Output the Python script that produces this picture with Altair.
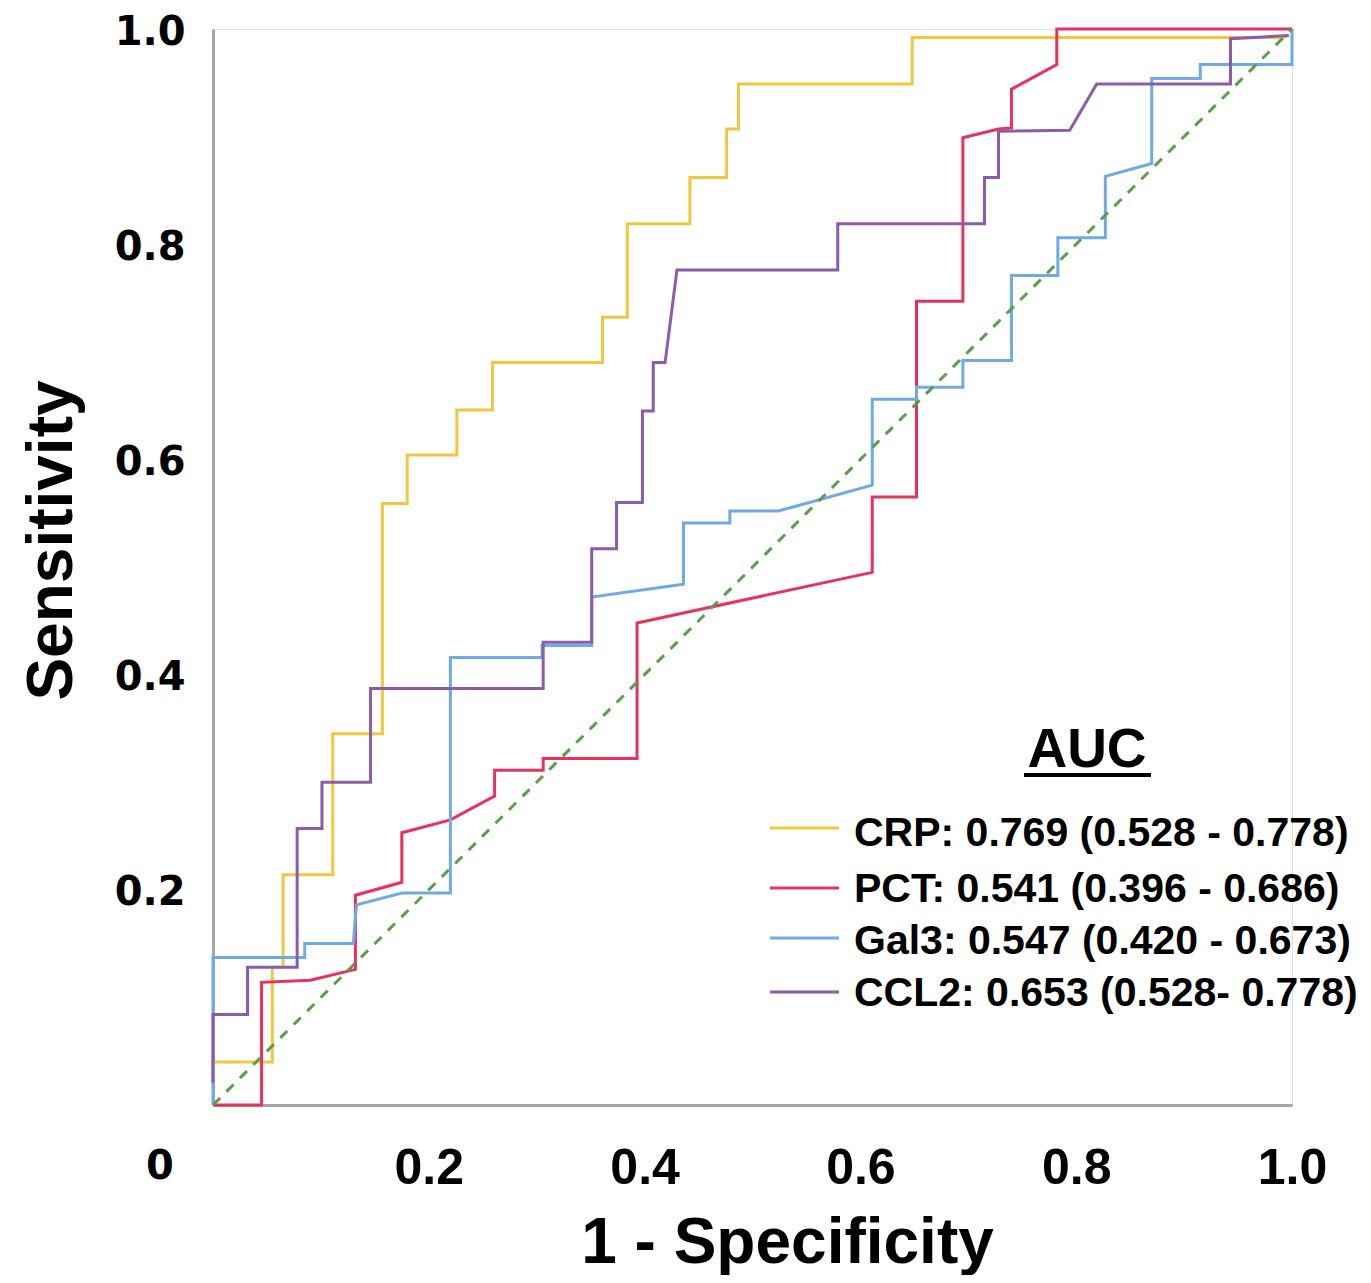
import altair as alt
import pandas as pd

# ---- data ------------------------------------------------------------------
series_names = ["CRP", "PCT", "Gal3", "CCL2"]
series_colors = ["#F2C740", "#E8325C", "#6EAAE4", "#8C5CAA"]
auc_labels = [
    "CRP: 0.769 (0.528 - 0.778)",
    "PCT: 0.541 (0.396 - 0.686)",
    "Gal3: 0.547 (0.420 - 0.673)",
    "CCL2: 0.653 (0.528- 0.778)",
]

crp_fpr = [0, 0, 0.055, 0.055, 0.065, 0.065, 0.111, 0.111, 0.157, 0.157,
           0.180, 0.180, 0.226, 0.226, 0.259, 0.259, 0.361, 0.361, 0.384, 0.384,
           0.442, 0.442, 0.476, 0.476, 0.487, 0.487, 0.648, 0.648, 0.991, 0.997]
crp_tpr = [0.021, 0.040, 0.040, 0.128, 0.128, 0.214, 0.214, 0.345, 0.345, 0.559,
           0.559, 0.604, 0.604, 0.646, 0.646, 0.690, 0.690, 0.732, 0.732, 0.819,
           0.819, 0.862, 0.862, 0.907, 0.907, 0.949, 0.949, 0.992, 0.992, 0.994]

pct_fpr = [0, 0.045, 0.045, 0.090, 0.132, 0.132, 0.175, 0.175, 0.220, 0.261,
           0.261, 0.306, 0.306, 0.393, 0.393, 0.611, 0.611, 0.652, 0.652, 0.695,
           0.695, 0.728, 0.740, 0.740, 0.782, 0.782, 1.0]
pct_tpr = [0, 0, 0.114, 0.116, 0.126, 0.195, 0.207, 0.253, 0.265, 0.287,
           0.311, 0.311, 0.322, 0.322, 0.448, 0.495, 0.565, 0.565, 0.747, 0.747,
           0.899, 0.907, 0.908, 0.944, 0.967, 1.0, 1.0]

gal3_fpr = [0, 0, 0.060, 0.085, 0.085, 0.130, 0.133, 0.175, 0.220, 0.220,
            0.305, 0.305, 0.351, 0.351, 0.436, 0.436, 0.479, 0.479, 0.524, 0.611,
            0.611, 0.652, 0.652, 0.695, 0.695, 0.740, 0.740, 0.783, 0.783, 0.827,
            0.827, 0.870, 0.870, 0.915, 0.915, 1.0, 1.0]
gal3_tpr = [0, 0.137, 0.137, 0.137, 0.150, 0.150, 0.186, 0.197, 0.197, 0.416,
            0.416, 0.427, 0.427, 0.472, 0.484, 0.541, 0.541, 0.552, 0.552, 0.576,
            0.656, 0.656, 0.667, 0.667, 0.692, 0.692, 0.771, 0.771, 0.806, 0.806,
            0.863, 0.875, 0.954, 0.954, 0.967, 0.967, 1.0]

ccl2_fpr = [0, 0, 0.032, 0.032, 0.078, 0.078, 0.101, 0.101, 0.146, 0.146,
            0.306, 0.306, 0.351, 0.351, 0.374, 0.374, 0.398, 0.398, 0.408, 0.408,
            0.419, 0.430, 0.579, 0.579, 0.715, 0.715, 0.728, 0.728, 0.794, 0.819,
            0.943, 0.943, 0.997]
ccl2_tpr = [0.021, 0.084, 0.084, 0.128, 0.128, 0.257, 0.257, 0.300, 0.300, 0.387,
            0.387, 0.430, 0.430, 0.517, 0.517, 0.560, 0.560, 0.645, 0.645, 0.690,
            0.690, 0.776, 0.776, 0.819, 0.819, 0.862, 0.862, 0.905, 0.906, 0.949,
            0.949, 0.991, 0.994]

ref_x = [0, 1]
ref_y = [0, 1]

tick_values = [0.2, 0.4, 0.6, 0.8, 1.0]

# ---- build tables ----------------------------------------------------------
rows = []
for name, fx, ty in [("CRP", crp_fpr, crp_tpr), ("PCT", pct_fpr, pct_tpr),
                     ("Gal3", gal3_fpr, gal3_tpr), ("CCL2", ccl2_fpr, ccl2_tpr)]:
    for i, (a, b) in enumerate(zip(fx, ty)):
        rows.append({"series": name, "fpr": a, "tpr": b, "idx": i})
curves_df = pd.DataFrame(rows)
ref_df = pd.DataFrame({"fpr": ref_x, "tpr": ref_y})

W, H = 1079, 1076
TOP = 21
GRAY = "#A6A6A6"

x_enc = alt.X(
    "fpr:Q",
    scale=alt.Scale(domain=[0, 1], nice=False, zero=False),
    axis=alt.Axis(
        values=tick_values, format=".1f", title="1 - Specificity",
        grid=False, ticks=False, domainColor=GRAY, domainWidth=3,
        labelFont="Liberation Sans", labelFontSize=50, labelFontWeight="bold",
        labelColor="black", labelPadding=38, labelFlush=False, labelOverlap=False,
        titleFont="Liberation Sans", titleFontSize=64, titleFontWeight="bold",
        titleColor="black", titleX=574, titleY=157, titleBaseline="alphabetic",
        titleAlign="center",
    ),
)
y_enc = alt.Y(
    "tpr:Q",
    scale=alt.Scale(domain=[0, 1], nice=False, zero=False),
    axis=alt.Axis(
        values=tick_values, format=".1f", title="Sensitivity",
        grid=False, ticks=False, domainColor=GRAY, domainWidth=3,
        labelFont="DejaVu Sans", labelFontSize=40, labelFontWeight="bold",
        labelColor="black", labelPadding=28, labelOffset=3, labelFlush=False,
        labelOverlap=False,
        titleFont="Liberation Sans", titleFontSize=64, titleFontWeight="bold",
        titleColor="black", titleAngle=270, titleX=-142, titleY=514 - (TOP - 18),
        titleBaseline="alphabetic", titleAlign="center",
    ),
)

curves = alt.Chart(curves_df).mark_line(strokeWidth=3).encode(
    x=x_enc,
    y=y_enc,
    color=alt.Color("series:N", scale=alt.Scale(domain=series_names, range=series_colors), legend=None),
    order="idx:Q",
    detail="series:N",
)

ref_line = alt.Chart(ref_df).mark_line(
    strokeWidth=3, strokeDash=[10, 9], color="#5A9E4C"
).encode(x="fpr:Q", y="tpr:Q")

dy = TOP - 18

zero_label = alt.Chart(pd.DataFrame({"t": ["0"]})).mark_text(
    font="DejaVu Sans", fontSize=40, fontWeight="bold", color="black",
    align="center", baseline="middle",
).encode(x=alt.value(-53), y=alt.value(1141 - dy), text="t:N")

auc_title = alt.Chart(pd.DataFrame({"t": ["AUC"]})).mark_text(
    font="Liberation Sans", fontSize=55, fontWeight="bold", color="black",
    align="center", baseline="alphabetic",
).encode(x=alt.value(874), y=alt.value(741 - dy), text="t:N")

auc_underline = alt.Chart(pd.DataFrame({"a": [0]})).mark_rule(
    color="black", strokeWidth=4
).encode(x=alt.value(811), x2=alt.value(938), y=alt.value(749 - dy))

legend_line_y = [802, 862, 912, 966]
legend_text_y = [820, 876, 928, 980]

legend_layers = []
for name, col, lab, ly, ty in zip(series_names, series_colors, auc_labels, legend_line_y, legend_text_y):
    legend_layers.append(
        alt.Chart(pd.DataFrame({"a": [0]})).mark_rule(color=col, strokeWidth=3).encode(
            x=alt.value(557), x2=alt.value(626), y=alt.value(ly - dy)
        )
    )
    legend_layers.append(
        alt.Chart(pd.DataFrame({"t": [lab]})).mark_text(
            font="Liberation Sans", fontSize=41, fontWeight="bold", color="black",
            align="left", baseline="alphabetic",
        ).encode(x=alt.value(641), y=alt.value(ty - dy), text="t:N")
    )

chart = alt.layer(
    curves, ref_line, zero_label, auc_title, auc_underline, *legend_layers
).properties(
    width=W, height=H,
    autosize=alt.AutoSizeParams(type="none"),
    padding={"left": 205, "top": TOP, "right": 70, "bottom": 170},
).configure_view(stroke=None).configure(background="white")

chart.save("out.html", embed_options={"renderer": "svg", "actions": False})
